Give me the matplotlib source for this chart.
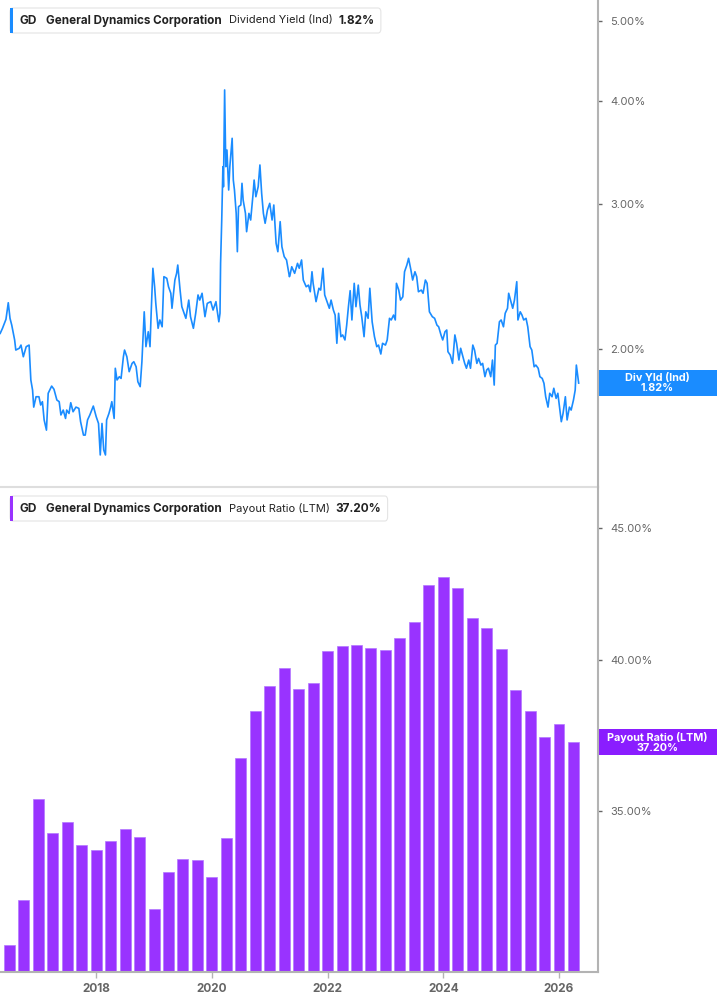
import numpy as np
import matplotlib
matplotlib.use('Agg')
import matplotlib.pyplot as plt
from matplotlib.patches import FancyBboxPatch, Rectangle
from matplotlib.ticker import FixedLocator, FuncFormatter, NullLocator

plt.rcParams['font.family'] = ['Inter', 'DejaVu Sans']

# dividend yield (Ind), %
yld_years = [
    2016.34, 2016.38, 2016.44, 2016.48, 2016.51, 2016.54, 2016.59, 2016.61, 2016.67, 2016.70,
    2016.74, 2016.79, 2016.84, 2016.87, 2016.90, 2016.92, 2016.96, 2017.01, 2017.04, 2017.07,
    2017.10, 2017.14, 2017.17, 2017.23, 2017.27, 2017.32, 2017.36, 2017.39, 2017.43, 2017.47,
    2017.49, 2017.53, 2017.56, 2017.60, 2017.65, 2017.70, 2017.73, 2017.78, 2017.81, 2017.85,
    2017.89, 2017.95, 2018.00, 2018.04, 2018.07, 2018.10, 2018.13, 2018.16, 2018.18, 2018.22,
    2018.25, 2018.27, 2018.31, 2018.33, 2018.36, 2018.40, 2018.43, 2018.47, 2018.49, 2018.53,
    2018.57, 2018.62, 2018.65, 2018.69, 2018.72, 2018.76, 2018.79, 2018.83, 2018.86, 2018.90,
    2018.93, 2018.95, 2018.98, 2019.01, 2019.03, 2019.07, 2019.10, 2019.14, 2019.17, 2019.22,
    2019.25, 2019.29, 2019.31, 2019.36, 2019.39, 2019.41, 2019.45, 2019.48, 2019.52, 2019.55,
    2019.60, 2019.63, 2019.68, 2019.72, 2019.76, 2019.79, 2019.83, 2019.88, 2019.92, 2019.98,
    2020.02, 2020.07, 2020.09, 2020.12, 2020.14, 2020.15, 2020.17, 2020.19, 2020.20, 2020.22,
    2020.24, 2020.26, 2020.29, 2020.31, 2020.35, 2020.37, 2020.39, 2020.42, 2020.44, 2020.46,
    2020.50, 2020.52, 2020.54, 2020.58, 2020.60, 2020.64, 2020.67, 2020.71, 2020.73, 2020.76,
    2020.80, 2020.83, 2020.86, 2020.89, 2020.92, 2020.96, 2021.00, 2021.04, 2021.07, 2021.11,
    2021.14, 2021.18, 2021.21, 2021.25, 2021.29, 2021.34, 2021.35, 2021.38, 2021.43, 2021.48,
    2021.51, 2021.55, 2021.58, 2021.63, 2021.67, 2021.70, 2021.73, 2021.75, 2021.80, 2021.85,
    2021.88, 2021.92, 2021.95, 2021.98, 2022.03, 2022.06, 2022.10, 2022.13, 2022.16, 2022.19,
    2022.23, 2022.26, 2022.30, 2022.33, 2022.36, 2022.39, 2022.42, 2022.46, 2022.49, 2022.53,
    2022.56, 2022.59, 2022.63, 2022.66, 2022.70, 2022.73, 2022.77, 2022.81, 2022.85, 2022.88,
    2022.92, 2022.95, 2023.00, 2023.03, 2023.07, 2023.10, 2023.14, 2023.17, 2023.19, 2023.23,
    2023.26, 2023.30, 2023.33, 2023.37, 2023.40, 2023.44, 2023.47, 2023.51, 2023.54, 2023.57,
    2023.62, 2023.65, 2023.69, 2023.72, 2023.76, 2023.81, 2023.85, 2023.89, 2023.92, 2023.96,
    2023.99, 2024.03, 2024.06, 2024.08, 2024.12, 2024.16, 2024.20, 2024.23, 2024.27, 2024.30,
    2024.34, 2024.37, 2024.40, 2024.44, 2024.47, 2024.51, 2024.54, 2024.58, 2024.61, 2024.65,
    2024.68, 2024.72, 2024.75, 2024.78, 2024.82, 2024.85, 2024.88, 2024.90, 2024.93, 2024.97,
    2025.00, 2025.04, 2025.07, 2025.11, 2025.13, 2025.17, 2025.20, 2025.23, 2025.27, 2025.29,
    2025.33, 2025.36, 2025.39, 2025.43, 2025.46, 2025.50, 2025.53, 2025.57, 2025.60, 2025.64,
    2025.67, 2025.71, 2025.74, 2025.77, 2025.81, 2025.84, 2025.88, 2025.91, 2025.95, 2025.98,
    2026.01, 2026.04, 2026.07, 2026.11, 2026.14, 2026.18, 2026.21, 2026.25, 2026.28, 2026.30,
    2026.34,
]
yld_values = [
    2.091, 2.121, 2.175, 2.278, 2.181, 2.140, 2.053, 1.996, 2.006, 2.024,
    1.959, 2.015, 2.024, 1.836, 1.785, 1.702, 1.752, 1.752, 1.712, 1.728,
    1.642, 1.596, 1.769, 1.805, 1.789, 1.736, 1.728, 1.665, 1.688, 1.649,
    1.688, 1.672, 1.723, 1.680, 1.702, 1.696, 1.634, 1.574, 1.574, 1.642,
    1.665, 1.707, 1.657, 1.626, 1.489, 1.626, 1.510, 1.489, 1.642, 1.672,
    1.702, 1.728, 1.649, 1.897, 1.836, 1.853, 1.844, 1.959, 1.996, 1.959,
    1.879, 1.923, 1.932, 1.905, 1.827, 1.802, 1.932, 2.221, 2.015, 2.101,
    2.015, 2.212, 2.508, 2.382, 2.274, 2.121, 2.171, 2.130, 2.450, 2.439,
    2.382, 2.339, 2.243, 2.427, 2.473, 2.531, 2.360, 2.253, 2.212, 2.181,
    2.295, 2.191, 2.121, 2.212, 2.328, 2.295, 2.339, 2.191, 2.274, 2.285,
    2.232, 2.285, 2.232, 2.160, 2.212, 2.543, 2.870, 3.331, 3.150, 4.127,
    3.331, 3.490, 3.121, 3.331, 3.606, 3.209, 3.121, 2.924, 2.627, 2.979,
    2.993, 3.180, 3.035, 2.924, 2.778, 2.924, 2.870, 3.078, 3.209, 3.063,
    3.150, 3.347, 3.092, 2.924, 2.844, 2.951, 3.007, 2.870, 2.993, 2.689,
    2.627, 2.857, 2.664, 2.591, 2.567, 2.450, 2.461, 2.519, 2.473, 2.543,
    2.508, 2.567, 2.427, 2.382, 2.393, 2.349, 2.484, 2.405, 2.285, 2.372,
    2.360, 2.508, 2.328, 2.295, 2.243, 2.295, 2.232, 2.201, 2.034, 2.212,
    2.072, 2.082, 2.053, 2.140, 2.253, 2.356, 2.171, 2.405, 2.253, 2.393,
    2.263, 2.191, 2.072, 2.221, 2.181, 2.372, 2.160, 2.072, 2.015, 2.024,
    1.974, 2.034, 2.024, 2.053, 2.181, 2.171, 2.201, 2.171, 2.405, 2.360,
    2.295, 2.316, 2.484, 2.531, 2.579, 2.496, 2.427, 2.484, 2.450, 2.349,
    2.360, 2.339, 2.427, 2.405, 2.221, 2.191, 2.181, 2.140, 2.130, 2.082,
    2.053, 2.101, 2.111, 1.987, 1.968, 1.923, 2.082, 2.034, 1.941, 2.006,
    1.959, 1.923, 1.897, 1.941, 1.897, 2.024, 1.996, 1.923, 1.950, 1.914,
    1.923, 1.853, 1.888, 1.897, 1.853, 1.941, 1.810, 2.024, 2.034, 2.160,
    2.171, 2.130, 2.212, 2.243, 2.339, 2.285, 2.243, 2.295, 2.416, 2.171,
    2.221, 2.201, 2.171, 2.181, 2.130, 2.015, 1.996, 1.905, 1.914, 1.897,
    1.853, 1.844, 1.819, 1.752, 1.702, 1.769, 1.752, 1.794, 1.744, 1.769,
    1.702, 1.634, 1.672, 1.752, 1.642, 1.702, 1.688, 1.736, 1.785, 1.914,
    1.820,
]

# payout ratio (LTM), %, one bar per quarter from mid-2016
payout_start = 2016.5
payout = [31.06, 32.33, 35.36, 34.31, 34.64, 33.95, 33.80, 34.07, 34.43, 34.19,
          32.07, 33.14, 33.53, 33.50, 33.00, 34.16, 36.68, 38.23, 39.11, 39.72,
          38.99, 39.20, 40.33, 40.51, 40.56, 40.43, 40.36, 40.79, 41.38, 42.77,
          43.06, 42.64, 41.52, 41.17, 40.39, 38.96, 38.23, 37.37, 37.79, 37.20]
quarters = payout_start + 0.25 * np.arange(len(payout))

year_ticks = [2018, 2020, 2022, 2024, 2026]
yld_ticks = [2, 3, 4, 5]
payout_ticks = [35, 40, 45]

BLUE = '#1a8cff'
PURPLE = '#9933ff'
BOX_PURPLE = '#8a1dff'
W, H = 717, 1005


def fx(px):
    return px / W


def fy(py):
    return 1 - py / H


fig = plt.figure(figsize=(W / 100, H / 100), dpi=100)
ax1 = fig.add_axes([0, fy(487), fx(597.7), 487 / H])
ax2 = fig.add_axes([0, fy(972), fx(597.7), (972 - 487) / H])

ax1.plot(yld_years, yld_values, color=BLUE, lw=1.2)
ax1.set_yscale('log')
ax1.set_ylim(1.3616, 5.306)

ax2.bar(quarters, payout, width=0.19, color=PURPLE, edgecolor='#b477ff',
        linewidth=0.5, log=True)
ax2.set_ylim(30.33, 46.66)

pct = FuncFormatter(lambda v, p: '%.2f%%' % v)
for ax, ticks in [(ax1, yld_ticks), (ax2, payout_ticks)]:
    ax.set_xlim(2016.337, 2026.669)
    ax.yaxis.tick_right()
    ax.yaxis.set_major_locator(FixedLocator(ticks))
    ax.yaxis.set_minor_locator(NullLocator())
    ax.yaxis.set_major_formatter(pct)
    ax.tick_params(axis='y', direction='out', length=3, width=1, color='#666666',
                   pad=6, labelsize=8, labelcolor='#666666')
    ax.spines['left'].set_visible(False)
    ax.spines['top'].set_visible(False)
    ax.spines['right'].set_color('#b3b3b3')
    ax.spines['right'].set_linewidth(1.5)
    ax.patch.set_visible(False)

ax1.spines['bottom'].set_color('#dedede')
ax1.spines['bottom'].set_linewidth(1.5)
ax1.tick_params(axis='x', bottom=False, labelbottom=False)

ax2.spines['bottom'].set_color('#b3b3b3')
ax2.spines['bottom'].set_linewidth(1.5)
ax2.set_xticks(year_ticks)
ax2.set_xticklabels([str(y) for y in year_ticks], fontweight='bold')
ax2.tick_params(axis='x', length=4, width=1, color='#b3b3b3', pad=4,
                labelsize=8.5, labelcolor='#666666')

renderer = fig.canvas.get_renderer()


def legend_box(top, color, metric, value):
    yc = fy(top + 12.5)
    kw = dict(va='center', ha='left', color='#222222', zorder=7)
    fig.text(fx(20), yc, 'GD', fontweight='bold', fontsize=8.5, **kw)
    fig.text(fx(46), yc, 'General Dynamics Corporation', fontweight='bold',
             fontsize=8.4, **kw)
    t = fig.text(fx(229), yc, metric, fontsize=8, **kw)
    x_end = t.get_window_extent(renderer).x1
    v = fig.text(fx(x_end + 6), yc, value, fontweight='bold', fontsize=8.5, **kw)
    right = v.get_window_extent(renderer).x1 + 6
    box = FancyBboxPatch((fx(10), fy(top + 25)), fx(right - 10), 25 / H,
                         boxstyle='round,pad=0,rounding_size=0.004',
                         transform=fig.transFigure, fc='white', ec='#e4e4e4',
                         lw=0.8, zorder=5)
    fig.patches.append(box)
    bar = Rectangle((fx(10), fy(top + 25)), fx(3), 25 / H,
                    transform=fig.transFigure, fc=color, ec='none', zorder=6)
    fig.patches.append(bar)


legend_box(8, BLUE, 'Dividend Yield (Ind)', '1.82%')
legend_box(496, PURPLE, 'Payout Ratio (LTM)', '37.20%')


def value_box(ax, value, color, text):
    ypix = ax.transData.transform((2020, value))[1]
    yc = ypix / H
    h = 26 / H
    fig.patches.append(Rectangle((fx(598.5), yc - h / 2), fx(717 - 598.5), h,
                                 transform=fig.transFigure, fc=color, ec='none'))
    fig.text(fx(657.5), yc, text, ha='center', va='center', color='white',
             fontsize=7.8, fontweight='bold', linespacing=1.0)


value_box(ax1, yld_values[-1], BLUE, 'Div Yld (Ind)\n1.82%')
value_box(ax2, payout[-1], BOX_PURPLE, 'Payout Ratio (LTM)\n37.20%')

fig.savefig('out.png', dpi=100)
